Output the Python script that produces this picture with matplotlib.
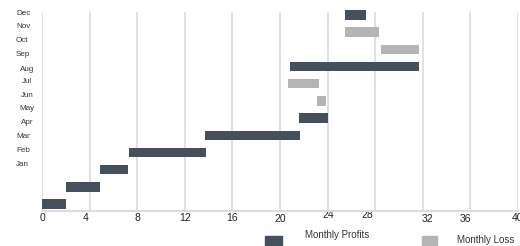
import numpy as np
import matplotlib
matplotlib.use("Agg")
import matplotlib.pyplot as plt
from matplotlib.patches import Rectangle
from matplotlib.transforms import ScaledTranslation, blended_transform_factory

plt.rcParams['font.family'] = ['Liberation Sans', 'DejaVu Sans']

# ---- data ----
months = ['Dec', 'Nov', 'Oct', 'Sep', 'Aug', 'Jul', 'Jun', 'May', 'Apr', 'Mar', 'Feb', 'Jan']
bar_start = [0.0, 2.0, 4.9, 7.35, 13.7, 21.6, 23.1, 20.7, 20.8, 28.5, 25.5, 25.5]
bar_end = [2.0, 4.85, 7.2, 13.75, 21.7, 24.0, 23.9, 23.3, 31.7, 31.65, 28.35, 27.2]
bar_kind = ['profit', 'profit', 'profit', 'profit', 'profit', 'profit',
            'loss', 'loss', 'profit', 'loss', 'loss', 'profit']
x_ticks = [0, 4, 8, 12, 16, 20, 24, 28, 32, 36, 40]
legend_labels = {'profit': 'Monthly Profits', 'loss': 'Monthly Loss'}

# ---- styles ----
colors = {'profit': '#44505b', 'loss': '#b4b4b4'}
W, H = 520, 246
fig = plt.figure(figsize=(W / 100, H / 100), dpi=100)
ax = fig.add_axes([42 / W, 1 - 211 / H, 476 / W, 199 / H])

ypos = np.arange(len(bar_start))
starts = np.array(bar_start)
widths = np.array(bar_end) - starts
ax.barh(ypos, widths, left=starts, height=0.55,
        color=[colors[k] for k in bar_kind], zorder=3, clip_on=False)

ax.set_xlim(0, 40)
ax.set_ylim(-0.407, 11.175)
ax.set_yticks([])
ax.set_xticks(x_ticks)
ax.set_xticklabels([str(t) for t in x_ticks], fontsize=7.5, color='#222222')
ax.tick_params(axis='x', length=0, pad=1.5)
ax.grid(axis='x', color='#dedede', lw=1.3)
ax.set_axisbelow(True)
for s in ['top', 'right', 'left']:
    ax.spines[s].set_visible(False)
ax.spines['bottom'].set_color('#dcdcdc')
ax.spines['bottom'].set_linewidth(1.5)

# jittered x tick labels as in reference
offsets = {4: (-3.6, 0), 24: (0.5, -3), 28: (-8, -3), 32: (4.5, 0.5), 36: (-5.4, 0.5), 20: (0, 0.5)}
for t, lab in zip(x_ticks, ax.get_xticklabels()):
    dx, dy = offsets.get(t, (0, 0))
    lab.set_transform(lab.get_transform() + ScaledTranslation(dx / 100, -dy / 100, fig.dpi_scale_trans))

# month labels (placed as in reference)
label_y = [11.0, 10.22, 9.41, 8.61, 7.74, 7.02, 6.24, 5.47, 4.66, 3.82, 3.03, 2.23]
tr = blended_transform_factory(fig.transFigure, ax.transData)
for m, yv in zip(months, label_y):
    if m in ('Aug', 'Jul', 'Jun', 'May', 'Apr'):
        ax.text(27 / W, yv, m, transform=tr, ha='center', va='baseline', fontsize=5.8, color='#333333')
    else:
        ax.text(16 / W, yv, m, transform=tr, ha='left', va='baseline', fontsize=5.8, color='#333333')

# legend
fig.add_artist(Rectangle((265 / W, 1 - 252 / H), 16.7 / W, 16 / H, transform=fig.transFigure,
                         color=colors['profit'], clip_on=False))
fig.add_artist(Rectangle((421.7 / W, 1 - 252 / H), 15.6 / W, 16 / H, transform=fig.transFigure,
                         color=colors['loss'], clip_on=False))
fig.text(305 / W, 1 - 237.7 / H, legend_labels['profit'], ha='left', va='baseline', fontsize=7, color='#333333')
fig.text(457 / W, 1 - 243.3 / H, legend_labels['loss'], ha='left', va='baseline', fontsize=7, color='#333333')

fig.savefig('out.png', dpi=100)
